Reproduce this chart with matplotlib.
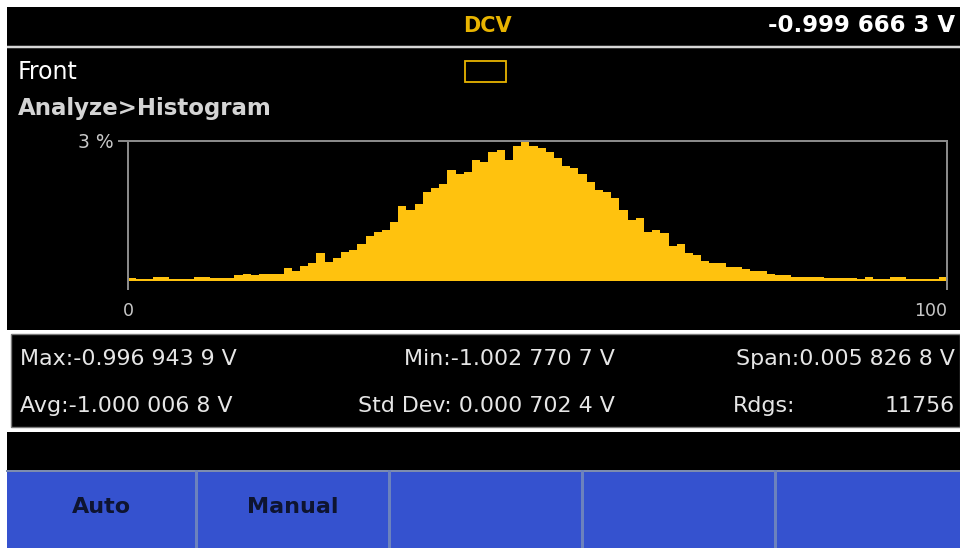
import matplotlib.pyplot as plt
from matplotlib.patches import Rectangle

# Histogram of readings: 100 bins, height in % of total readings
bin_pct = [
    0.07, 0.04, 0.04, 0.08, 0.08, 0.04, 0.04, 0.04, 0.08, 0.08,
    0.07, 0.07, 0.07, 0.12, 0.16, 0.12, 0.16, 0.16, 0.16, 0.28,
    0.21, 0.33, 0.38, 0.59, 0.41, 0.50, 0.62, 0.67, 0.80, 0.97,
    1.06, 1.10, 1.27, 1.61, 1.53, 1.65, 1.91, 1.99, 2.08, 2.38,
    2.29, 2.33, 2.59, 2.55, 2.76, 2.80, 2.59, 2.89, 2.97, 2.89,
    2.85, 2.76, 2.63, 2.46, 2.42, 2.29, 2.12, 1.95, 1.91, 1.78,
    1.53, 1.31, 1.36, 1.06, 1.10, 1.02, 0.76, 0.80, 0.59, 0.55,
    0.42, 0.38, 0.38, 0.29, 0.29, 0.25, 0.21, 0.21, 0.16, 0.12,
    0.12, 0.08, 0.08, 0.08, 0.08, 0.07, 0.07, 0.07, 0.07, 0.04,
    0.08, 0.04, 0.04, 0.08, 0.08, 0.04, 0.04, 0.04, 0.04, 0.08,
]
y_max = 3
x_ticks = [0, 100]

mode_label = "DCV"
reading = "-0.999 666 3 V"
source = "Front"
menu_path = "Analyze>Histogram"

stats_row1 = ["Max:-0.996 943 9 V", "Min:-1.002 770 7 V", "Span:0.005 826 8 V"]
stats_row2 = ["Avg:-1.000 006 8 V", "Std Dev: 0.000 702 4 V", "Rdgs:", "11756"]
softkeys = ["Auto", "Manual", "", "", ""]
key_edges = [7, 196, 389, 582, 775, 960]

BLACK = "#000000"
YELLOW = "#ffc20e"
GOLD = "#e8b400"
GRAY = "#8a8a8a"
TXT = "#e6e6e6"
BLUE = "#3552cf"
KEY_EDGE = "#6c82bd"

W, H = 960, 548
PX = 72 / 100  # points per pixel

fig = plt.figure(figsize=(W / 100, H / 100), dpi=100)
fig.patch.set_facecolor("white")

# screen layout drawn in pixel coordinates
bg = fig.add_axes([0, 0, 1, 1])
bg.set_xlim(0, W)
bg.set_ylim(H, 0)
bg.axis("off")

bg.add_patch(Rectangle((7, 7), W - 7, 323, facecolor=BLACK, edgecolor="none"))
bg.plot([7, W], [47, 47], color="#d6d6d6", lw=2.5 * PX, solid_capstyle="butt")
bg.add_patch(Rectangle((11, 334), W - 11, 93, facecolor=BLACK, edgecolor="#7a7a7a", lw=1))
bg.add_patch(Rectangle((7, 432), W - 7, 38, facecolor=BLACK, edgecolor="none"))
bg.add_patch(Rectangle((7, 470), W - 7, 78, facecolor=BLUE, edgecolor="none"))
bg.plot([7, W], [470.5, 470.5], color="#7d8cae", lw=2 * PX)

# header
bg.text(487, 26, mode_label, color=GOLD, fontsize=15, fontweight="bold",
        ha="center", va="center")
bg.text(955, 26, reading, color="white", fontsize=16.5, fontweight="bold",
        ha="right", va="center")

bg.text(18, 72, source, color="white", fontsize=17, ha="left", va="center")
bg.add_patch(Rectangle((465, 61), 41, 21, facecolor="none", edgecolor=GOLD, lw=1.3))
bg.text(18, 108, menu_path, color="#d4d4d4", fontsize=16.5, fontweight="bold",
        ha="left", va="center")

# statistics panel
stat_fs = 15.9
bg.text(20, 359, stats_row1[0], color=TXT, fontsize=stat_fs, ha="left", va="center")
bg.text(615, 359, stats_row1[1], color=TXT, fontsize=stat_fs, ha="right", va="center")
bg.text(955, 359, stats_row1[2], color=TXT, fontsize=stat_fs, ha="right", va="center")
bg.text(20, 406, stats_row2[0], color=TXT, fontsize=stat_fs, ha="left", va="center")
bg.text(615, 406, stats_row2[1], color=TXT, fontsize=stat_fs, ha="right", va="center")
bg.text(733, 406, stats_row2[2], color=TXT, fontsize=stat_fs, ha="left", va="center")
bg.text(955, 406, stats_row2[3], color=TXT, fontsize=stat_fs, ha="right", va="center")

# soft keys
for i, label in enumerate(softkeys):
    x0, x1 = key_edges[i], key_edges[i + 1]
    if i > 0:
        bg.plot([x0, x0], [471, H], color=KEY_EDGE, lw=3 * PX)
    bg.text((x0 + x1) / 2, 507, label, color="#0e1430", fontsize=16,
            fontweight="bold", ha="center", va="center")

# histogram
ax = fig.add_axes([128 / W, (H - 281) / H, 819 / W, 140 / H])
ax.set_facecolor(BLACK)
ax.bar(range(len(bin_pct)), bin_pct, width=1, align="edge", color=YELLOW,
       edgecolor="none", zorder=1)
ax.set_xlim(0, len(bin_pct))
ax.set_ylim(0, y_max)
for side in ["top", "left", "right"]:
    ax.spines[side].set_color(GRAY)
    ax.spines[side].set_linewidth(2 * PX)
ax.spines["bottom"].set_visible(False)

ax.set_yticks([y_max])
ax.set_yticklabels([f"{y_max} %"])
ax.set_xticks(x_ticks)
ax.set_xticklabels([str(t) for t in x_ticks])
ax.tick_params(axis="y", direction="out", length=10 * PX, width=2 * PX,
               color=GRAY, labelcolor="#c8c8c8", labelsize=13.5, pad=3)
ax.tick_params(axis="x", direction="out", length=9 * PX, width=2 * PX,
               color=GRAY, labelcolor="#c8c8c8", labelsize=12.5, pad=9)
xlabels = ax.get_xticklabels()
xlabels[-1].set_horizontalalignment("right")

fig.savefig("out.png", dpi=100, facecolor=fig.get_facecolor())
